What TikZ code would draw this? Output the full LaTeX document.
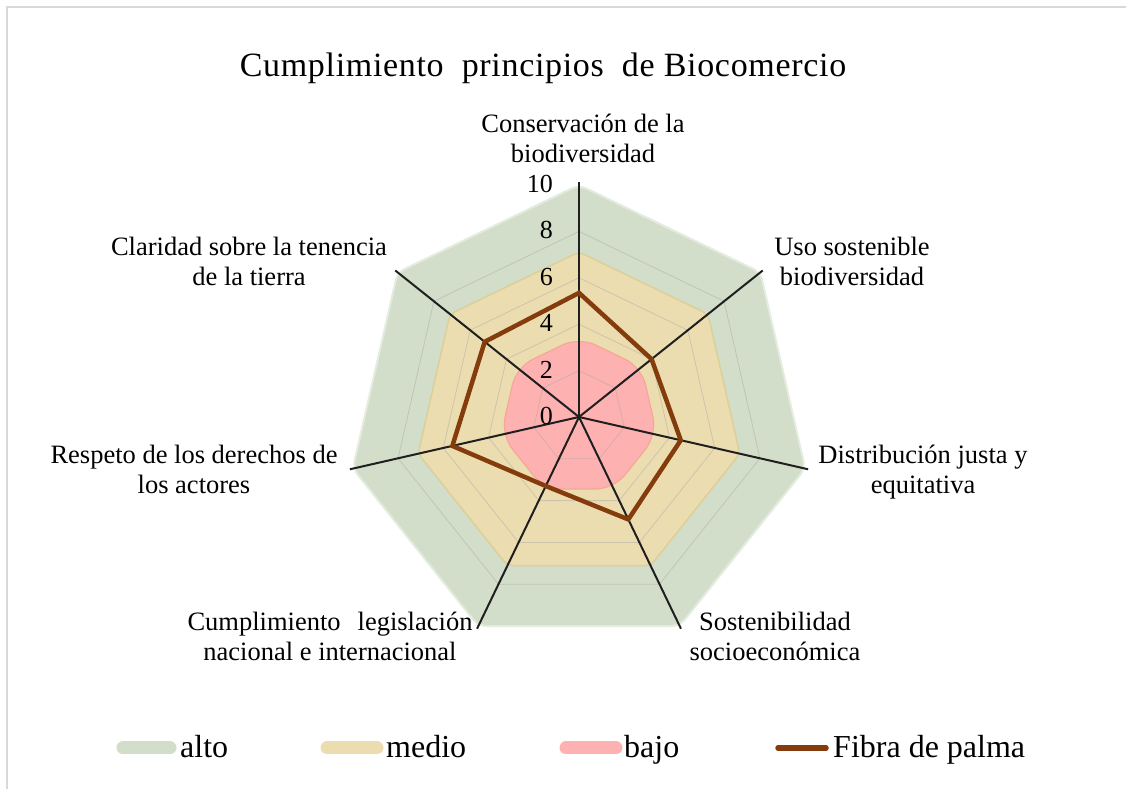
\documentclass[tikz,border=0pt]{standalone}
\usepackage{fontspec}
\setmainfont{Liberation Serif}
\newfontfamily\titlefont[LetterSpace=2]{Liberation Serif}
\definecolor{altoc}{HTML}{D2DECA}
\definecolor{altoedge}{HTML}{E4EBDF}
\definecolor{medioc}{HTML}{ECDDB1}
\definecolor{medioedge}{HTML}{DCCF98}
\definecolor{bajoc}{HTML}{FEB1B1}
\definecolor{bajoedge}{HTML}{F6A796}
\definecolor{palma}{HTML}{843C0C}
\definecolor{framec}{HTML}{D9D9D9}
\newcommand\hepta[1]{(90:#1) -- (38.5714:#1) -- (-12.8571:#1) -- (-64.2857:#1) -- (-115.7143:#1) -- (-167.1429:#1) -- (141.4286:#1) -- cycle}
\begin{document}
\begin{tikzpicture}[x=1pt,y=1pt,
  lab/.style={font=\fontsize{26.5}{30}\selectfont, align=center, inner sep=0pt},
  ticklab/.style={font=\fontsize{26}{30}\selectfont, anchor=east, inner sep=0pt},
  leg/.style={font=\fontsize{32}{36}\selectfont, anchor=base west, inner sep=0pt},
  axisline/.style={draw=black!88, line width=2pt},
  gridline/.style={draw=gray!70, line width=0.8pt, opacity=0.45},
  swatch/.style={line width=13pt, line cap=round}]
\useasboundingbox (0,0) rectangle (1126,789);
\fill[white] (0,0) rectangle (1126,789);
\draw[framec, line width=2pt] (7,0) -- (7,782) -- (1126,782);

\node[font={\titlefont\fontsize{34}{40}\selectfont}, inner sep=0pt] (title) at (543,721)
  {Cumplimiento\hspace{18pt}principios\hspace{18pt}de Biocomercio};

\begin{scope}[shift={(579,372)}]
  % filled areas
  \fill[altoc, draw=altoedge, line width=2pt, rounded corners=8pt] \hepta{232};
  \fill[medioc, draw=medioedge, line width=1.5pt, rounded corners=6pt] \hepta{165};
  \fill[bajoc, draw=bajoedge, line width=1.2pt, rounded corners=18pt] \hepta{80};
  % grid
  \foreach \r in {46.4,92.8,139.2,185.6}{
    \draw[gridline] \hepta{\r};
  }
  % axes
  \coordinate (O) at (0,0);
  \coordinate (A0) at (90:235);
  \coordinate (A1) at (38.5714:235);
  \coordinate (A2) at (-12.8571:235);
  \coordinate (A3) at (-64.2857:235);
  \coordinate (A4) at (-115.7143:235);
  \coordinate (A5) at (-167.1429:235);
  \coordinate (A6) at (141.4286:235);
  \foreach \k in {0,...,6}{\draw[axisline] (O) -- (A\k);}
  % data
  \coordinate (P0) at (90:124.1);
  \coordinate (P1) at (38.5714:92.8);
  \coordinate (P2) at (-12.8571:104.4);
  \coordinate (P3) at (-64.2857:113.7);
  \coordinate (P4) at (-115.7143:76.6);
  \coordinate (P5) at (-167.1429:129.9);
  \coordinate (P6) at (141.4286:120.6);
  \draw[palma, line width=4.5pt, line join=miter] (P0) -- (P1) -- (P2) -- (P3) -- (P4) -- (P5) -- (P6) -- cycle;
  % tick labels
  \node[ticklab] (t0) at (-26,1) {0};
  \node[ticklab] (t2) at (-26,47.4) {2};
  \node[ticklab] (t4) at (-26,93.8) {4};
  \node[ticklab] (t6) at (-26,140.2) {6};
  \node[ticklab] (t8) at (-26,186.6) {8};
  \node[ticklab] (t10) at (-26,233) {10};
\end{scope}

% axis labels
\node[lab] (l0) at (583,647) {Conservación de la\strut\\biodiversidad\strut};
\node[lab] (l1) at (852,524) {Uso sostenible\strut\\biodiversidad\strut};
\node[lab] (l2) at (923,316) {Distribución justa y\strut\\equitativa\strut};
\node[lab] (l3) at (775,149) {Sostenibilidad\strut\\socioeconómica\strut};
\node[lab] (l4) at (330,149) {Cumplimiento\hspace{17pt}legislación\strut\\nacional e internacional\strut};
\node[lab] (l5) at (194,316) {Respeto de los derechos de\strut\\los actores\strut};
\node[lab] (l6) at (249,524) {Claridad sobre la tenencia\strut\\de la tierra\strut};

% legend
\coordinate (s1a) at (123,41); \coordinate (s1b) at (170,41);
\coordinate (s2a) at (327,41); \coordinate (s2b) at (377,41);
\coordinate (s3a) at (566,41); \coordinate (s3b) at (616,41);
\coordinate (s4a) at (778,41); \coordinate (s4b) at (826,41);
\draw[swatch, altoc] (s1a) -- (s1b);
\draw[swatch, medioc] (s2a) -- (s2b);
\draw[swatch, bajoc] (s3a) -- (s3b);
\draw[palma, line width=5.5pt, line cap=round] (s4a) -- (s4b);
\node[leg] (g1) at (180,31) {alto};
\node[leg] (g2) at (386,31) {medio};
\node[leg] (g3) at (624,31) {bajo};
\node[leg] (g4) at (833,31) {Fibra de palma};
\end{tikzpicture}
\end{document}
